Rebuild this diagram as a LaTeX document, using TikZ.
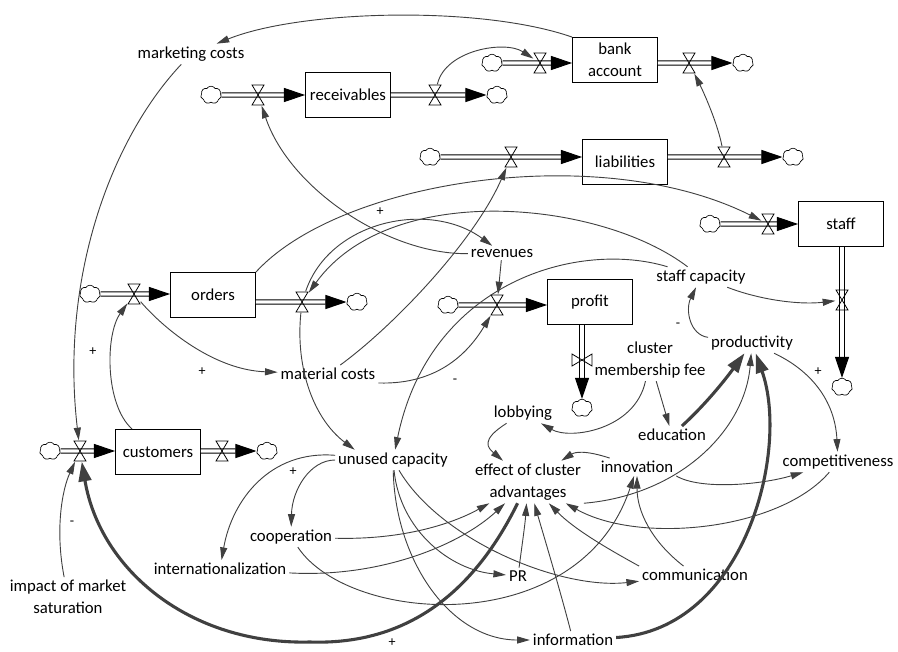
\documentclass[tikz,border=0pt]{standalone}
\usepackage{fontspec}
\setmainfont{Carlito}
\usetikzlibrary{arrows.meta, shapes.symbols}
\definecolor{linkgray}{HTML}{404040}

\begin{document}
\begin{tikzpicture}[x=0.025cm, y=-0.025cm,
		font=\fontsize{11.9}{15.5}\selectfont,
		stock/.style = {draw, line width=0.6pt, minimum width=2.125cm,
					minimum height=1.125cm, inner sep=1pt, align=center},
		var/.style = {inner sep=2pt, align=center},
		cloudy/.style = {cloud, cloud puffs=7, cloud puff arc=115, aspect=1.2,
					draw, line width=0.45pt, minimum width=0.52cm,
					minimum height=0.44cm, inner sep=0pt},
		valvept/.style = {inner sep=0pt, minimum width=0.32cm, minimum height=0.52cm},
		pipe/.style = {double, double distance=2.2pt, line width=0.7pt,
					-{Triangle[length=15pt,width=10pt]}},
		link/.style = {draw=linkgray, line width=0.65pt, -{Triangle[length=9pt,width=5pt]}},
		strong/.style = {draw=linkgray, line width=2.2pt, -{Triangle[length=14pt,width=9pt]}},
		sign/.style = {font=\fontsize{10}{10}\selectfont, inner sep=0pt},
		valve/.pic = {\draw[line width=0.55pt] (-6,-10) -- (6,-10) -- (-6,10) -- (6,10) -- cycle;}
		]

\useasboundingbox (0,0) rectangle (898,651);

%Stocks
	\node[stock] (recv) at (348,95) {receivables};
	\node[stock] (bank) at (615,60) {bank\\account};
	\node[stock] (liab) at (625,162) {liabilities};
	\node[stock] (staff) at (841,224) {staff};
	\node[stock] (orders) at (213,295) {orders};
	\node[stock] (profit) at (590,302) {profit};
	\node[stock] (cust) at (158,452) {customers};

%Clouds
	\node[cloudy] (cRecIn) at (211,95) {};
	\node[cloudy] (cRecOut) at (497,95) {};
	\node[cloudy] (cBankIn) at (492,63) {};
	\node[cloudy] (cBankOut) at (743,63) {};
	\node[cloudy] (cLiabIn) at (430,157) {};
	\node[cloudy] (cLiabOut) at (793,157) {};
	\node[cloudy] (cStaffIn) at (710,224) {};
	\node[cloudy] (cStaffOut) at (842,387) {};
	\node[cloudy] (cOrdIn) at (90,294) {};
	\node[cloudy] (cOrdOut) at (357,302) {};
	\node[cloudy] (cProfIn) at (448,305) {};
	\node[cloudy] (cProfOut) at (582,408) {};
	\node[cloudy] (cCustIn) at (50,451) {};
	\node[cloudy] (cCustOut) at (267,451) {};

%Valves
	\node[valvept] (vRecIn) at (258,95) {};
	\node[valvept] (vRecOut) at (435,95) {};
	\node[valvept] (vBankIn) at (540,63) {};
	\node[valvept] (vBankOut) at (689,63) {};
	\node[valvept] (vLiabIn) at (511,157) {};
	\node[valvept] (vLiabOut) at (724,157) {};
	\node[valvept] (vStaffIn) at (768,224) {};
	\node[valvept] (vStaffOut) at (842,300) {};
	\node[valvept] (vOrdIn) at (134,294) {};
	\node[valvept] (vOrdOut) at (302,302) {};
	\node[valvept] (vProfIn) at (497,305) {};
	\node[valvept, rotate=90] (vProfOut) at (582,360) {};
	\node[valvept] (vCustIn) at (80,451) {};
	\node[valvept] (vCustOut) at (222,451) {};

%Pipes
	\draw[pipe] (cRecIn) -- (recv);
	\draw[pipe] (recv) -- (cRecOut);
	\draw[pipe] (cBankIn) -- (cBankIn -| bank.west);
	\draw[pipe] (bank.east |- cBankOut) -- (cBankOut);
	\draw[pipe] (cLiabIn) -- (cLiabIn -| liab.west);
	\draw[pipe] (liab.east |- cLiabOut) -- (cLiabOut);
	\draw[pipe] (cStaffIn) -- (staff);
	\draw[pipe] (vStaffOut |- staff.south) -- (vStaffOut |- cStaffOut.north);
	\draw[pipe] (cOrdIn) -- (cOrdIn -| orders.west);
	\draw[pipe] (orders.east |- cOrdOut) -- (cOrdOut);
	\draw[pipe] (cProfIn) -- (cProfIn -| profit.west);
	\draw[pipe] (vProfOut |- profit.south) -- (vProfOut |- cProfOut.north);
	\draw[pipe] (cCustIn) -- (cCustIn -| cust.west);
	\draw[pipe] (cust.east |- cCustOut) -- (cCustOut);

	\foreach \v in {vRecIn, vRecOut, vBankIn, vBankOut, vLiabIn, vLiabOut, vStaffIn,
			vStaffOut, vOrdIn, vOrdOut, vProfIn, vCustIn, vCustOut}
		\pic at (\v) {valve};
	\pic[rotate=90] at (vProfOut) {valve};

%Variables
	\node[var] (mkt) at (191,54) {marketing costs};
	\node[var] (rev) at (502,253) {revenues};
	\node[var] (scap) at (701,277) {staff capacity};
	\node[var] (mat) at (328,374) {material costs};
	\node[var] (cmf) at (650,360) {cluster\\membership fee};
	\node[var] (prod) at (752,343) {productivity};
	\node[var] (lobby) at (523,413) {lobbying};
	\node[var] (edu) at (672,435) {education};
	\node[var] (unused) at (393,460) {unused capacity};
	\node[var] (effect) at (528,482) {effect of cluster\\advantages};
	\node[var] (innov) at (637,467) {innovation};
	\node[var] (compet) at (838,462) {competitiveness};
	\node[var] (coop) at (291,537) {cooperation};
	\node[var] (intl) at (220,569) {internationalization};
	\node[var] (pr) at (518,576) {PR};
	\node[var] (comm) at (695,575) {communication};
	\node[var] (info) at (573,640) {information};
	\node[var] (impact) at (68,597) {impact of market\\saturation};

%Money and orders
	\draw[link] (bank.north west) .. controls (480,5) and (300,10) .. (mkt);
	\draw[link] (mkt) .. controls (110,140) and (60,280) .. (vCustIn);
	\draw[link] (impact) .. controls (55,530) and (62,490) .. (vCustIn);
	\draw[link] (cust) .. controls (105,405) and (105,335) .. (vOrdIn);
	\draw[link] (vOrdIn) .. controls (165,330) and (215,370) .. (mat);
	\draw[link] (orders.north east) .. controls (340,180) and (600,140) .. (vStaffIn);
	\draw[link] (rev) .. controls (390,255) and (290,190) .. (vRecIn);
	\draw[link] (vRecOut) .. controls (445,50) and (505,40) .. (vBankIn);
	\draw[link] (vLiabOut) .. controls (718,125) and (705,95) .. (vBankOut);
	\draw[link] (mat) .. controls (395,325) and (475,240) .. (vLiabIn);
	\draw[link] (mat.south east) .. controls (440,385) and (470,350) .. (vProfIn);
	\draw[link] (rev) -- (vProfIn);
	\draw[link] (vOrdOut) .. controls (330,220) and (430,200) .. (rev);
	\draw[link] (vOrdOut) .. controls (295,370) and (315,420) .. (unused.165);

%Capacity
	\draw[link] (scap) .. controls (600,200) and (390,180) .. (vOrdOut);
	\draw[link] (scap) .. controls (580,240) and (430,280) .. (unused);
	\draw[link] (scap) .. controls (760,300) and (800,305) .. (vStaffOut);
	\draw[link] (prod) .. controls (690,335) and (685,310) .. (scap);
	\draw[link] (prod) .. controls (810,370) and (835,400) .. (compet);

%Cluster
	\draw[link] (cmf) .. controls (635,430) and (570,440) .. (lobby);
	\draw[link] (cmf) -- (edu);
	\draw[strong] (edu) .. controls (705,405) and (725,380) .. (prod);
	\draw[link] (lobby) .. controls (480,440) and (488,448) .. (effect);
	\draw[link] (innov) .. controls (585,450) and (575,452) .. (effect);
	\draw[link] (effect.south east) .. controls (680,495) and (745,430) .. (prod);
	\draw[strong] (info) .. controls (745,630) and (790,450) .. (prod);
	\draw[link] (innov.south east) .. controls (700,490) and (760,485) .. (compet);
	\draw[link] (compet) .. controls (780,530) and (640,545) .. (effect);
	\draw[link] (comm) .. controls (650,540) and (637,510) .. (innov);
	\draw[link] (comm.north west) .. controls (610,550) and (575,530) .. (effect);
	\draw[link] (info) .. controls (560,590) and (545,540) .. (effect);
	\draw[link] (pr) .. controls (522,545) and (525,525) .. (effect);
	\draw[link] (coop) .. controls (400,540) and (450,525) .. (effect);
	\draw[link] (intl) .. controls (380,578) and (460,545) .. (effect);
	\draw[link] (coop) .. controls (350,625) and (580,640) .. (innov);
	\draw[strong] (effect) .. controls (470,600) and (400,645) .. (310,642)
		.. controls (190,645) and (100,570) .. (vCustIn);

%Unused capacity
	\draw[link] (unused) .. controls (310,460) and (292,490) .. (coop);
	\draw[link] (unused) .. controls (270,450) and (232,500) .. (intl);
	\draw[link] (unused) .. controls (400,530) and (450,570) .. (pr);
	\draw[link] (unused) .. controls (440,540) and (560,590) .. (comm);
	\draw[link] (unused) .. controls (395,560) and (450,640) .. (info);

%Polarities
	\foreach \px/\py [count=\i] in {380/212, 93/352, 202/372, 293/472, 818/372, 392/643}
		\node[sign] (plus\i) at (\px,\py) {+};
	\foreach \px/\py [count=\i] in {72/523, 455/381, 678/325}
		\node[sign] (minus\i) at (\px,\py) {-};

\end{tikzpicture}
\end{document}
